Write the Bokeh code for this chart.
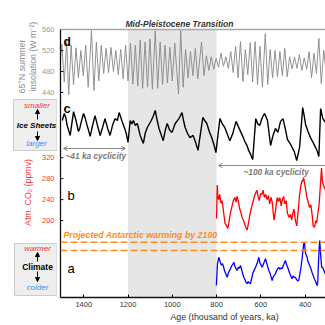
from bokeh.plotting import figure
from bokeh.layouts import row
from bokeh.models import (Range1d, LinearAxis, FixedTicker, BoxAnnotation, Span, Title,
                          Label, Arrow, NormalHead, OpenHead)
from bokeh.core.properties import value
from bokeh.embed import file_html
from bokeh.resources import INLINE

# ---------------- data ----------------
# d: 65N summer insolation (W m-2)
ins_age = [1505, 1499, 1488, 1477, 1468, 1457, 1446, 1435, 1424, 1413, 1402, 1391, 1380,
           1365, 1354, 1343, 1332, 1321, 1310, 1299, 1288, 1277, 1266, 1255, 1244, 1233,
           1222, 1211, 1200, 1189, 1178, 1167, 1156, 1145, 1134, 1123, 1112, 1101, 1090,
           1077, 1066, 1055, 1044, 1033, 1022, 1011, 1000, 989, 972, 962, 951, 940, 929,
           918, 907, 896, 885, 868, 857, 846, 835, 824, 813, 802, 791, 780, 769, 758, 747,
           736, 725, 714, 703, 692, 681, 670, 659, 648, 637, 626, 615, 604, 593, 580, 569,
           558, 547, 536, 525, 514, 503, 492, 481, 470, 459, 448, 437, 426, 415, 404, 393,
           382, 371, 360, 349, 338, 327, 316, 308]
ins_val = [505, 532, 460, 537, 436, 530, 455, 525, 468, 520, 472, 530, 450,
           558, 444, 536, 462, 530, 476, 524, 478, 526, 480, 520, 474, 522,
           466, 530, 462, 534, 456, 530, 452, 540, 448, 536, 450, 542, 446,
           558, 448, 536, 455, 530, 458, 526, 462, 534, 437, 558, 450, 522, 468,
           518, 472, 524, 466, 536, 472, 510, 482, 508, 484, 505, 488, 515, 490, 508, 486,
           518, 478, 528, 468, 537, 461, 522, 474, 535, 460, 537, 455, 528, 450, 552, 455,
           522, 468, 520, 470, 518, 472, 524, 470, 508, 485, 508, 486, 512, 482, 506, 484,
           518, 468, 515, 476, 543, 457, 520, 490]

# c: ice sheets (benthic d18O, permil; larger = bigger ice sheets)
ice_age = [1497, 1488, 1481, 1475, 1468, 1461, 1454, 1446, 1435, 1424, 1418, 1412, 1401,
           1393, 1385, 1378, 1371, 1360, 1349, 1338, 1326, 1315, 1304, 1292, 1281, 1270,
           1259, 1248, 1240, 1225, 1215, 1207, 1200, 1190, 1183, 1176, 1167, 1158, 1145,
           1131, 1122, 1113, 1095, 1086, 1077, 1068, 1060, 1046, 1041, 1032, 1023, 1012,
           1001, 987, 970, 956, 949, 942, 931, 920, 906, 895, 884, 862, 853, 844, 833,
           822, 811, 803, 785, 774, 763, 751, 740, 727, 712, 701, 690, 681, 672, 662, 655,
           646, 637, 623, 614, 605, 594, 583, 570, 563, 556, 545, 534, 523, 511, 500, 490,
           480, 470, 461, 449, 438, 425, 411, 404, 398, 387, 376, 365, 353, 345, 338, 330,
           320, 308]
ice_d18o = [3.69, 3.46, 3.60, 3.85, 4.02, 4.18, 3.80, 3.40, 3.69, 4.05, 3.95, 3.76, 3.46,
            3.62, 3.85, 4.02, 4.21, 3.85, 3.53, 3.85, 4.18, 3.92, 3.63, 3.95, 4.18, 3.85,
            3.63, 3.69, 3.43, 3.76, 3.95, 4.15, 4.41, 3.69, 3.80, 3.69, 3.85, 3.79, 4.18,
            4.44, 4.10, 3.92, 3.69, 3.55, 3.36, 3.70, 3.95, 4.25, 4.35, 4.02, 3.79, 4.00,
            4.08, 3.79, 3.63, 3.43, 3.70, 3.92, 4.12, 4.25, 4.18, 4.40, 4.67, 3.59, 3.70,
            3.79, 4.05, 4.25, 4.50, 4.74, 3.63, 3.80, 3.92, 4.15, 4.35, 4.12, 3.72, 3.90,
            4.08, 4.22, 4.38, 4.52, 4.67, 4.80, 4.97, 3.63, 3.80, 3.85, 3.60, 3.46, 3.69,
            4.10, 4.51, 4.18, 3.95, 4.08, 3.72, 3.63, 3.95, 4.31, 4.42, 4.54, 4.71, 5.00,
            4.57, 3.27, 3.55, 3.82, 4.05, 4.25, 4.40, 4.57, 4.70, 4.87, 3.30, 3.63, 3.76]

# b: atmospheric CO2 (ppmv)
co2_age = [800, 797, 794, 790, 786, 780, 775, 768, 762, 755, 749, 743, 737, 730, 724,
           717, 712, 708, 702, 697, 690, 684, 678, 672, 666, 662, 656, 650, 644, 636,
           630, 624, 618, 612, 607, 601, 595, 590, 584, 578, 572, 566, 560, 554, 549,
           544, 540, 535, 530, 526, 520, 514, 508, 503, 497, 492, 486, 480, 472, 466,
           461, 455, 450, 444, 438, 432, 426, 420, 415, 411, 407, 402, 396, 392, 386,
           380, 374, 368, 364, 358, 352, 348, 342, 337, 333, 329, 326, 322, 318, 312, 308]
co2_ppmv = [204, 268, 245, 240, 250, 233, 238, 215, 195, 190, 185, 200, 215, 228, 238,
            244, 235, 246, 238, 225, 215, 205, 200, 192, 185, 182, 195, 210, 222, 235,
            245, 252, 258, 245, 238, 252, 250, 258, 244, 250, 240, 248, 232, 244, 236,
            214, 201, 215, 232, 244, 236, 244, 228, 240, 246, 232, 238, 214, 206, 212,
            201, 215, 222, 200, 190, 215, 245, 265, 275, 275, 282, 270, 255, 244, 235,
            225, 230, 210, 190, 187, 200, 196, 215, 230, 255, 280, 300, 275, 268, 262, 258]

# a: Antarctic temperature anomaly (deg C)
temp_age = [801, 796, 790, 786, 783, 778, 773, 768, 763, 757, 752, 747, 742, 737, 732,
            727, 722, 717, 712, 707, 702, 697, 692, 687, 682, 677, 672, 667, 662, 657,
            652, 647, 641, 636, 630, 624, 619, 614, 609, 604, 599, 594, 589, 584, 579,
            574, 569, 564, 559, 554, 549, 544, 539, 534, 529, 524, 519, 514, 509, 504,
            499, 494, 489, 484, 479, 474, 469, 464, 459, 454, 449, 444, 439, 434, 429,
            424, 419, 413, 410, 407, 403, 399, 395, 391, 387, 383, 379, 376, 372, 368,
            364, 361, 357, 353, 349, 346, 343, 340, 337, 334, 331, 328, 325, 321, 317,
            313, 309]
temp_dT = [-8.1, -2.0, -0.2, -1.0, -1.6, -2.4, -2.0, -3.0, -4.2, -5.0, -5.8, -4.6, -4.0, -3.4, -2.6,
           -2.2, -1.6, -2.8, -3.4, -3.9, -3.0, -3.3, -2.5, -3.6, -4.8, -5.8, -6.4, -7.2, -7.6, -7.0,
           -7.4, -7.6, -6.0, -4.6, -3.8, -3.0, -2.2, -1.4, -0.2, -1.8, -2.4, -3.0, -2.2, -1.4, -0.6,
           -1.8, -2.8, -3.9, -4.6, -5.6, -6.7, -5.6, -5.2, -4.8, -4.0, -3.4, -3.0, -3.6, -3.2, -3.4,
           -2.6, -1.8, -1.1, -2.2, -3.0, -3.9, -4.8, -5.6, -6.2, -5.4, -5.8, -5.8, -6.4, -6.8, -6.7,
           -5.0, -3.2, -0.2, 1.6, 3.4, 4.0, 1.2, 0.4, -0.2, -1.4, -2.0, -2.6, -3.0, -3.8, -4.6,
           -5.2, -5.8, -6.4, -6.9, -7.6, -8.1, -7.4, -2.0, 2.0, 4.5, 1.5, -1.0, -3.0, -3.0, -3.6,
           -4.2, -4.8]

x_ticks = [1400, 1200, 1000, 800, 600, 400]
ins_ticks = [440, 480, 520, 560]
co2_ticks = [200, 240, 280, 320]
mpt_band = [1200, 800]
projected_warming = [1.7, 4.0]

# ---------------- styling / layout ----------------
FONT = "Liberation Sans"
RED = "#ff3333"
BLUE = "#3a8fff"
ORANGE = "#ff8c1a"
GRAY_TXT = "#7a7a7a"
H = 325
LEFT_W = 57
FR_TOP, FR_BOT = 29, 297          # frame top/bottom (canvas px)
FR_H = FR_BOT - FR_TOP
X_START, X_END = 1505, 308
TICK_LEN = 13                      # inward tick length in ka (~3 px)

ranges = {"ins": (49.5, 560.0), "ice": (9.483, 0.713), "co2": (53.3, 564.4),
          "temp": (-11.46, 63.58)}

p = figure(width=H - LEFT_W, height=H, output_backend="svg", toolbar_location=None,
           x_range=Range1d(X_START, X_END), y_range=Range1d(*ranges["ins"]),
           min_border_left=3, min_border_right=0, min_border_top=FR_TOP,
           min_border_bottom=H - FR_BOT, title="Mid-Pleistocene Transition")
p.outline_line_color = None
p.xgrid.visible = False
p.ygrid.visible = False
p.extra_y_ranges = {k: Range1d(*ranges[k]) for k in ("ice", "co2", "temp")}

p.title.align = "left"
p.title.offset = 65
p.title.text_font = FONT
p.title.text_font_size = "8.5px"
p.title.text_font_style = "bold italic"
p.title.text_color = "#333333"
p.title.standoff = 1

xa = p.xaxis[0]
xa.ticker = FixedTicker(ticks=x_ticks)
xa.major_tick_in = 3
xa.major_tick_out = 0
xa.minor_tick_line_color = None
xa.axis_line_width = 1.3
xa.axis_line_color = "#111111"
xa.major_label_text_font = FONT
xa.major_label_text_font_size = "7.5px"
xa.major_label_text_color = "#333333"
xa.major_label_standoff = 4

# left axis: just the line; its labels sit in the left margin figure
ya = p.yaxis[0]
ya.ticker = FixedTicker(ticks=[])
ya.major_tick_line_color = None
ya.minor_tick_line_color = None
ya.axis_line_width = 1.3
ya.axis_line_color = "#111111"
ya.major_label_standoff = 0

top = LinearAxis(ticker=FixedTicker(ticks=[]), axis_line_color="#a8a8a8", axis_line_width=1.5,
                 major_tick_line_color=None, minor_tick_line_color=None,
                 major_label_standoff=0)
p.add_layout(top, "above")

p.add_layout(Title(text="Age (thousand of years, ka)", align="left", offset=110,
                   text_font=FONT, text_font_size="8.8px", text_font_style="normal",
                   text_color="#333333", standoff=1), "below")

p.add_layout(BoxAnnotation(left=mpt_band[0], right=mpt_band[1], fill_color="#e6e6e6",
                           fill_alpha=1, line_color=None, level="underlay"))

p.line(ins_age, ins_val, line_color="#8c8c8c", line_width=0.95)
p.line(ice_age, ice_d18o, line_color="black", line_width=1.4, y_range_name="ice")
p.line(co2_age, co2_ppmv, line_color="#ff0000", line_width=1.3, y_range_name="co2")
p.line(temp_age, temp_dT, line_color="#0000ff", line_width=1.3, y_range_name="temp")

# inward tick marks on the left axis for both labelled scales
p.segment(x0=[X_START] * len(ins_ticks), x1=[X_START - TICK_LEN] * len(ins_ticks),
          y0=ins_ticks, y1=ins_ticks, line_color="#111111", line_width=1)
p.segment(x0=[X_START] * len(co2_ticks), x1=[X_START - TICK_LEN] * len(co2_ticks),
          y0=co2_ticks, y1=co2_ticks, line_color="#111111", line_width=1, y_range_name="co2")

for v in projected_warming:
    p.add_layout(Span(location=v, dimension="width", y_range_name="temp", line_color=ORANGE,
                      line_dash="7 3", line_width=1.5))


def lab(x, y, text, size="8px", color="black", style="normal", align="left",
        baseline="middle"):
    p.add_layout(Label(x=x, y=y, x_units="screen", y_units="screen", text=text,
                       text_font=FONT, text_font_size=size, text_color=color,
                       text_font_style=style, text_align=align, text_baseline=baseline))


lab(3, 62.5, "Projected Antarctic warming by 2100", "8.8px", ORANGE, "bold italic")
lab(5, 142, "~41 ka cyclicity", "8.3px", GRAY_TXT, "bold italic")
lab(183, 126, "~100 ka cyclicity", "8.3px", GRAY_TXT, "bold italic")
lab(3, 256, "d", "12px", "black", "bold", baseline="alphabetic")
lab(3, 189, "c", "13px", "black", "bold", baseline="alphabetic")
lab(7, 102, "b", "13px", "black", "normal", baseline="alphabetic")
lab(7, 29, "a", "13px", "black", "normal", baseline="alphabetic")

p.add_layout(Arrow(x_start=65, y_start=149, x_end=3, y_end=149, start_units="screen",
                   end_units="screen", line_color="#8a8a8a", line_width=1,
                   end=OpenHead(size=4, line_color="#8a8a8a", line_width=1),
                   start=OpenHead(size=4, line_color="#8a8a8a", line_width=1)))
p.add_layout(Arrow(x_start=270, y_start=132, x_end=158, y_end=132, start_units="screen",
                   end_units="screen", line_color="#8a8a8a", line_width=1,
                   end=OpenHead(size=4, line_color="#8a8a8a", line_width=1)))

# ---------------- left margin figure (axis labels, side boxes) ----------------
L = figure(width=LEFT_W, height=H, output_backend="svg", toolbar_location=None,
           min_border=0, x_axis_location=None, y_axis_location=None)
L.outline_line_color = None
L.grid.visible = False
L.title.visible = False

FULL = "frame_align" in L.properties()
if FULL:
    # let the margin figure use its whole canvas instead of copying the main frame
    L.frame_align = False
    p.frame_align = False
    y_lo, y_hi = 0, H
else:
    y_lo, y_hi = H - FR_BOT, H - FR_TOP
L.x_range = Range1d(0, LEFT_W)
L.y_range = Range1d(y_lo, y_hi)


def ext(key):
    a, b = ranges[key]
    per_px = (b - a) / FR_H
    return Range1d(a - (H - FR_BOT - y_lo) * per_px, b + (FR_TOP - (H - y_hi)) * per_px)


L.extra_y_ranges = {"ins": ext("ins"), "co2": ext("co2")}


def cy(Y):  # canvas pixel row -> left-figure coordinate
    return H - Y


L.text(x=[54] * len(ins_ticks), y=ins_ticks, text=[str(v) for v in ins_ticks],
       y_range_name="ins", text_align="right", text_baseline="middle",
       text_font=value(FONT), text_font_size="7.5px", text_color="#9a9a9a")
L.text(x=[54] * len(co2_ticks), y=co2_ticks, text=[str(v) for v in co2_ticks],
       y_range_name="co2", text_align="right", text_baseline="middle",
       text_font=value(FONT), text_font_size="7.5px", text_color=RED)

L.text(x=[21.5], y=[cy(66)], text=["65°N summer"], angle=1.5708, text_align="center",
       text_baseline="middle", text_font=value(FONT), text_font_size="8.8px",
       text_color="#8c8c8c")
L.text(x=[32.5], y=[cy(56)], text=["insolation (W m⁻²)"], angle=1.5708, text_align="center",
       text_baseline="middle", text_font=value(FONT), text_font_size="8.8px",
       text_color="#8c8c8c")
L.text(x=[27.5], y=[cy(192)], text=["Atm. CO₂ (ppmv)"], angle=1.5708, text_align="center",
       text_baseline="middle", text_font=value(FONT), text_font_size="8.8px",
       text_color=RED)

L.quad(left=[13, 14], right=[56.5, 56.5], top=[cy(99), cy(243)], bottom=[cy(150), cy(295)],
       fill_color="#eeeeee", line_color="#cccccc", line_width=1)


def ltxt(x, Y, t, color, style, size="8px"):
    L.text(x=[x], y=[cy(Y)], text=[t], text_align="center", text_baseline="middle",
           text_font=value(FONT), text_font_size=size, text_color=color,
           text_font_style=style)


ltxt(36.5, 105, "smaller", RED, "italic")
ltxt(36, 125, "Ice Sheets", "black", "bold italic")
ltxt(36, 143, "larger", BLUE, "italic")
ltxt(37, 248, "warmer", RED, "italic")
ltxt(37, 266, "Climate", "black", "bold", "8.5px")
ltxt(37, 287, "colder", BLUE, "italic")

for (y0, y1) in [(119, 109), (131, 140), (261, 252), (271, 281)]:
    L.add_layout(Arrow(x_start=37, y_start=cy(y0), x_end=37, y_end=cy(y1),
                       line_color="black", line_width=1,
                       end=NormalHead(size=4, fill_color="black", line_color="black")))

open("out.html", "w").write(file_html(row(L, p), INLINE))
